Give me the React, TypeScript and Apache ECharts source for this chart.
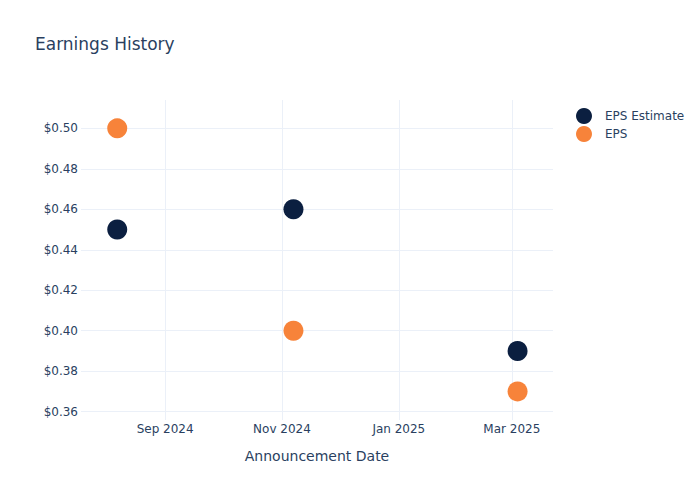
import React, { useEffect, useRef } from "react";
import * as echarts from "echarts";

// announcement dates and values
const dates = ["2024-08-07", "2024-11-07", "2025-03-04"];
const epsEstimate = [0.45, 0.46, 0.39];
const eps = [0.5, 0.4, 0.37];
const monthNames = ["Jan", "Feb", "Mar", "Apr", "May", "Jun", "Jul", "Aug", "Sep", "Oct", "Nov", "Dec"];

const toTime = (s: string) => {
    const [y, m, d] = s.split("-").map(Number);
    return new Date(y, m - 1, d).getTime();
};

const DAY = 24 * 3600 * 1000;
const textColor = "#2a3f5f";
const gridColor = "#EBF0F8";
const font = "DejaVu Sans";

const App: React.FC = () => {
    const chartRef = useRef<HTMLDivElement>(null);

    useEffect(() => {
        if (!chartRef.current) return;
        const chart = echarts.init(chartRef.current, null, { renderer: "svg" });

        const xMin = toTime("2024-07-19") + 2 * 3600 * 1000;
        const xMax = toTime("2025-03-22") + 12 * 3600 * 1000;

        const option = {
            animation: false,
            backgroundColor: "#fff",
            textStyle: { fontFamily: font },
            title: {
                text: "Earnings History",
                left: 35,
                top: 35,
                padding: 0,
                textStyle: { fontSize: 17, fontWeight: "normal", color: textColor, fontFamily: font },
            },
            legend: {
                orient: "vertical",
                left: 576,
                top: 108,
                padding: 0,
                itemWidth: 32,
                itemHeight: 16,
                itemGap: 2,
                icon: "circle",
                textStyle: { fontSize: 12, color: textColor, fontFamily: font },
                data: ["EPS Estimate", "EPS"],
            },
            grid: [
                { left: 81, right: 147, top: 100, bottom: 80 },
                { left: 81, right: 147, top: 128.3, height: 283.4 },
            ],
            xAxis: [
                {
                    gridIndex: 0,
                    type: "time",
                    min: xMin,
                    max: xMax,
                    minInterval: 62 * DAY,
                    maxInterval: 62 * DAY,
                    axisLine: { show: false },
                    axisTick: { show: false },
                    splitLine: { show: true, showMinLine: false, showMaxLine: false, lineStyle: { color: gridColor, width: 1 } },
                    axisLabel: {
                        color: textColor,
                        fontSize: 12,
                        fontFamily: font,
                        margin: 3,
                        showMinLabel: false,
                        showMaxLabel: false,
                        hideOverlap: false,
                        formatter: (v: number) => {
                            const d = new Date(v);
                            return monthNames[d.getMonth()] + " " + d.getFullYear();
                        },
                    },
                    name: "Announcement Date",
                    nameLocation: "middle",
                    nameGap: 29,
                    nameTextStyle: { fontSize: 14, color: textColor, fontFamily: font },
                },
                { gridIndex: 1, type: "time", min: xMin, max: xMax, show: false },
            ],
            yAxis: [
                { gridIndex: 0, type: "value", min: 0, max: 1, show: false },
                {
                    gridIndex: 1,
                    type: "value",
                    min: 0.36,
                    max: 0.5,
                    interval: 0.02,
                    axisLine: { show: false },
                    axisTick: { show: false },
                    splitLine: { show: true, lineStyle: { color: gridColor, width: 1 } },
                    axisLabel: {
                        color: textColor,
                        fontSize: 12,
                        fontFamily: font,
                        margin: 3,
                        formatter: (v: number) => "$" + v.toFixed(2),
                    },
                },
            ],
            series: [
                {
                    name: "EPS Estimate",
                    type: "scatter",
                    xAxisIndex: 1,
                    yAxisIndex: 1,
                    symbolSize: 20,
                    itemStyle: { color: "#0B1F40", opacity: 1 },
                    data: dates.map((d, i) => [toTime(d), epsEstimate[i]]),
                },
                {
                    name: "EPS",
                    type: "scatter",
                    xAxisIndex: 1,
                    yAxisIndex: 1,
                    symbolSize: 20,
                    itemStyle: { color: "#F7833A", opacity: 1 },
                    data: dates.map((d, i) => [toTime(d), eps[i]]),
                },
            ],
        };

        chart.setOption(option);

        return () => {
            chart.dispose();
        };
    }, []);

    return (
        <div
            ref={chartRef}
            style={{ position: "absolute", left: 0, top: 0, width: 700, height: 500 }}
        />
    );
};

export default App;
